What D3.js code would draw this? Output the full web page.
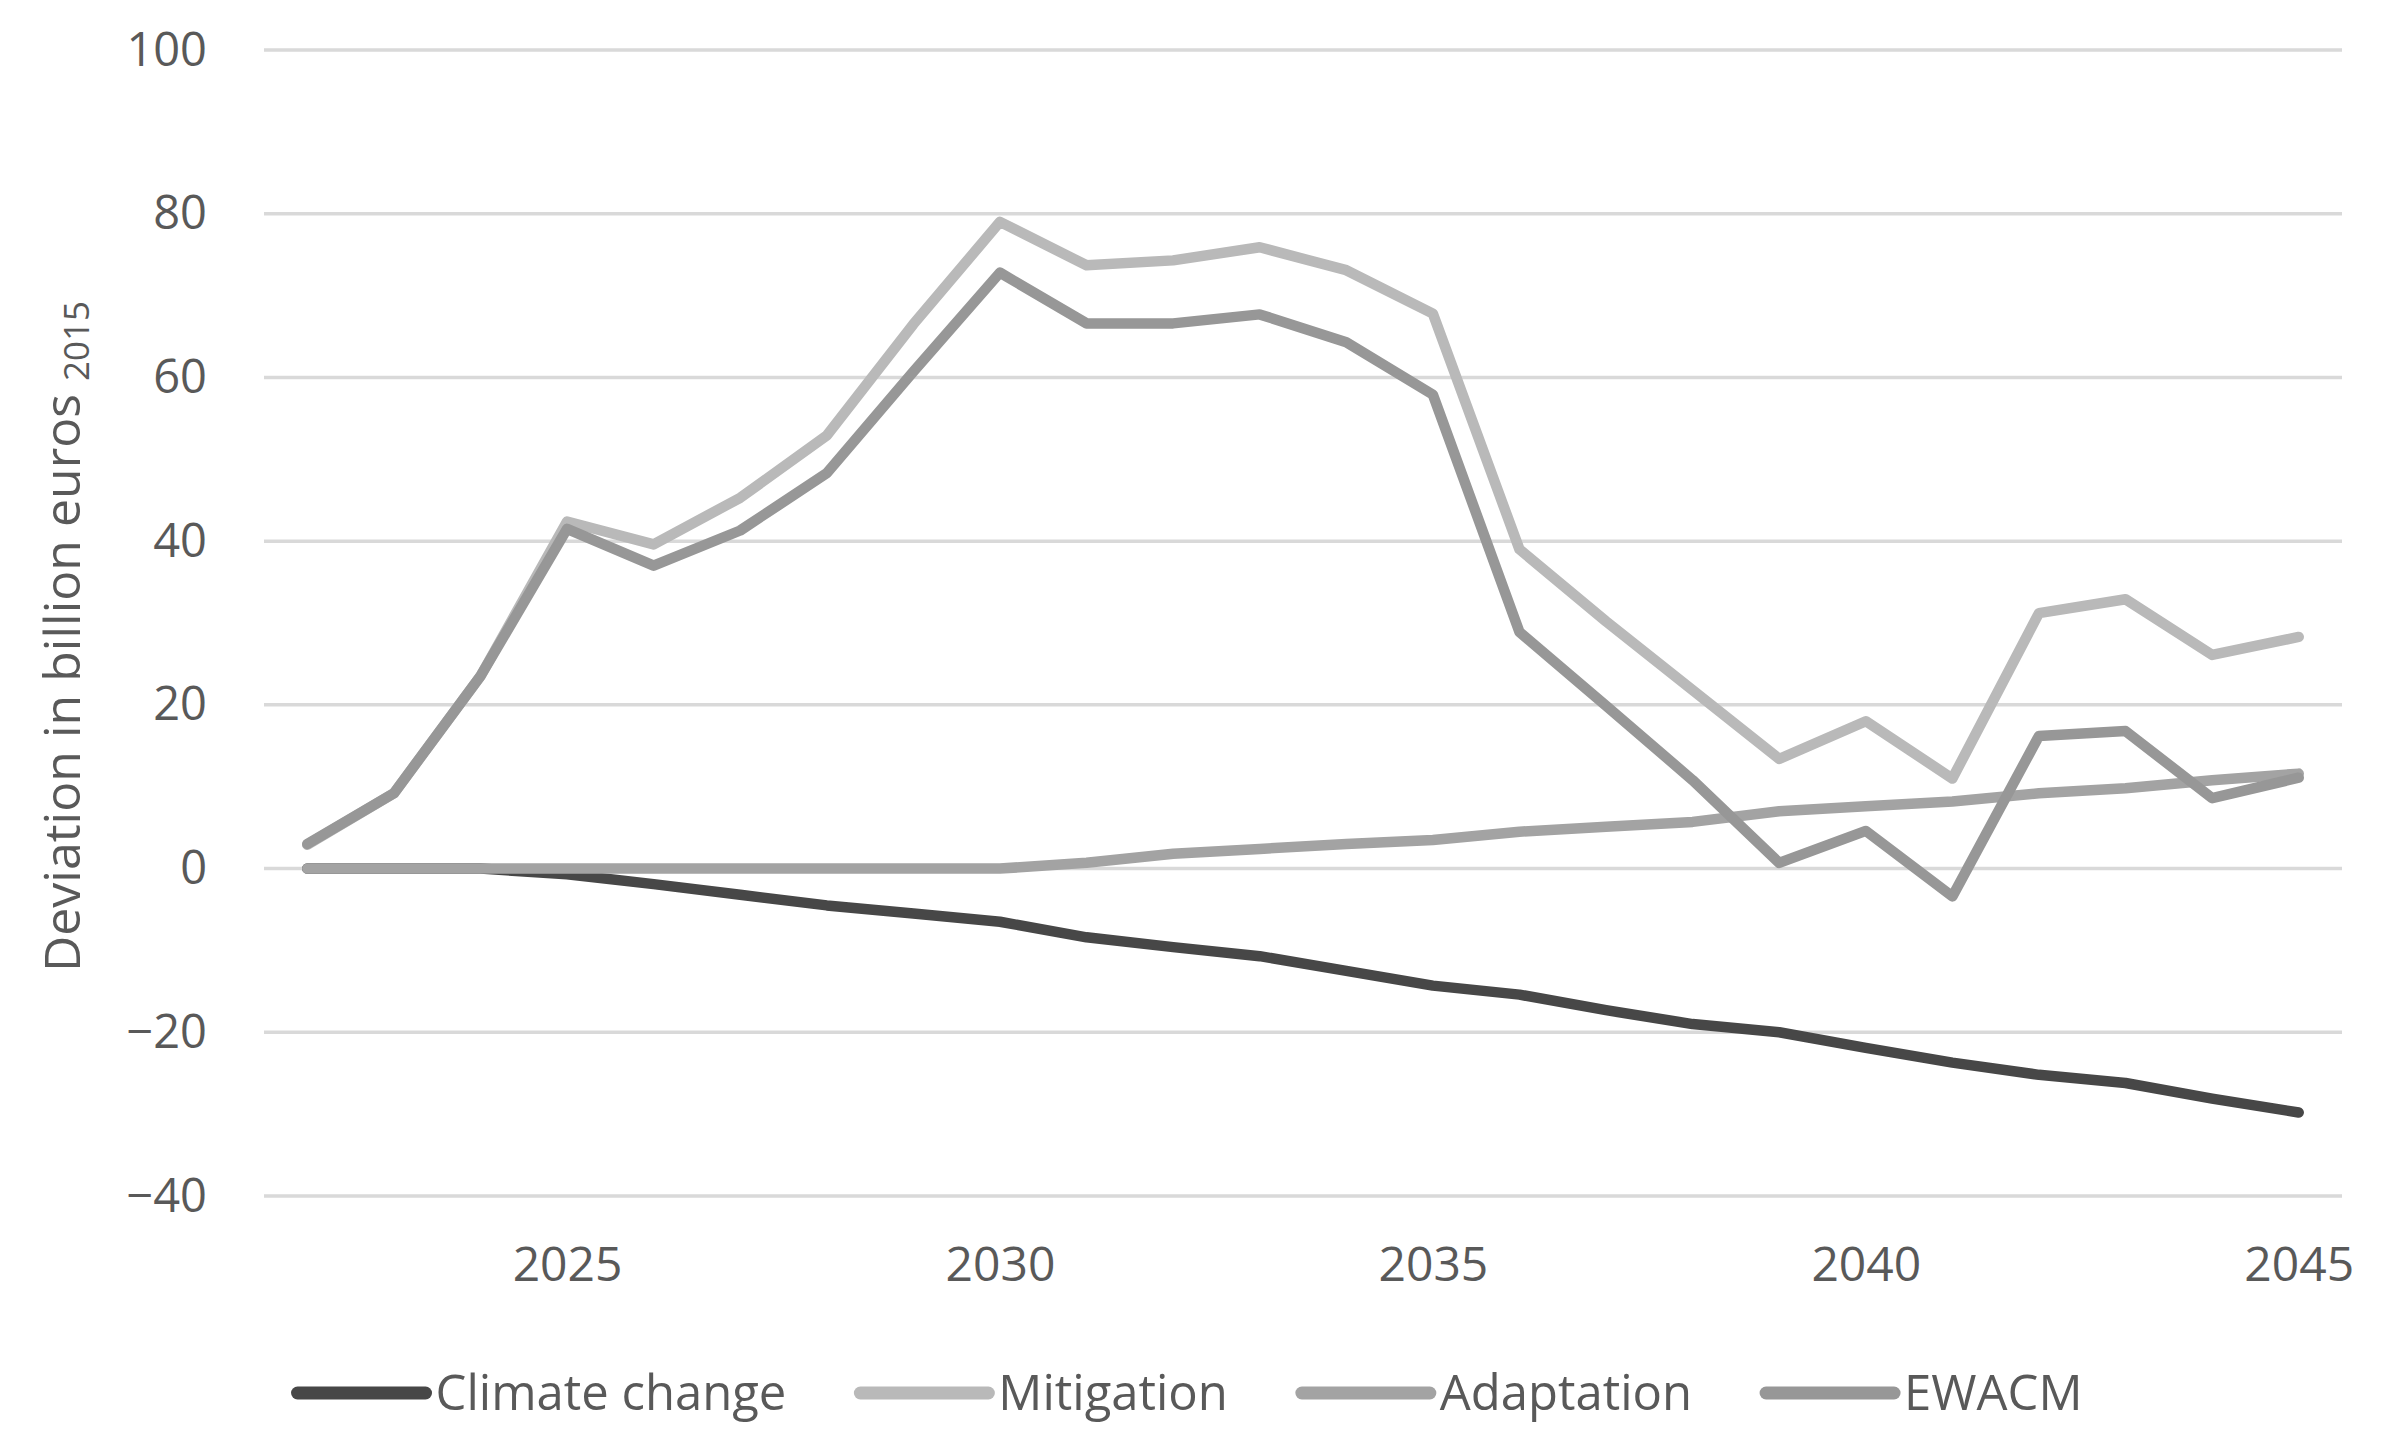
<!DOCTYPE html>
<html>
<head>
<meta charset="utf-8">
<script src="https://cdn.jsdelivr.net/npm/d3@7"></script>
<style>
  html, body { margin: 0; padding: 0; background: #ffffff; }
  svg { display: block; }
  text { font-family: "Open Sans", "Liberation Sans", sans-serif; fill: #595959; }
</style>
</head>
<body>
<svg id="chart" width="2381" height="1440"></svg>
<script>
// ---- data ----
const years = [2022,2023,2024,2025,2026,2027,2028,2029,2030,2031,2032,2033,2034,2035,2036,2037,2038,2039,2040,2041,2042,2043,2044,2045];
const xTickYears = [2025, 2030, 2035, 2040, 2045];
const yTicks = [-40, -20, 0, 20, 40, 60, 80, 100];
const seriesNames = ["Climate change", "Mitigation", "Adaptation", "EWACM"];
const climateChange = [0,0,0,-0.7,-1.9,-3.2,-4.5,-5.5,-6.5,-8.4,-9.6,-10.7,-12.5,-14.3,-15.4,-17.3,-19.0,-20.0,-21.9,-23.7,-25.2,-26.2,-28.1,-29.8];
const mitigation = [2.9,9.2,23.5,42.4,39.6,45.3,52.9,66.5,79.0,73.7,74.3,75.9,73.1,67.8,39.0,30.2,21.8,13.4,18.0,11.0,31.2,32.9,26.1,28.3];
const adaptation = [0,0,0,0,0,0,0,0,0,0.7,1.8,2.4,3.0,3.5,4.5,5.1,5.7,7.0,7.6,8.2,9.2,9.8,10.8,11.6];
const ewacm = [3.0,9.2,23.5,41.5,37.0,41.3,48.3,60.7,72.8,66.6,66.6,67.7,64.3,57.9,28.9,19.9,10.8,0.7,4.6,-3.4,16.2,16.8,8.6,11.1];
const yTitle = "Deviation in billion euros";
const yTitleSub = "2015";

// ---- styling ----
const colors = ["#474747", "#b9b9b9", "#a3a3a3", "#979797"];
const values = [climateChange, mitigation, adaptation, ewacm];

const svg = d3.select("#chart");
const plot = { left: 264, right: 2342, top: 50, bottom: 1196 };

const x = d3.scalePoint().domain(years).range([plot.left, plot.right]).padding(0.5);
const y = d3.scaleLinear().domain([-40, 100]).range([plot.bottom, plot.top]);

// gridlines
svg.append("g").selectAll("line").data(yTicks).join("line")
  .attr("x1", plot.left).attr("x2", plot.right)
  .attr("y1", d => y(d)).attr("y2", d => y(d))
  .attr("stroke", "#d9d9d9").attr("stroke-width", 3.5);

// y axis labels
const yAxis = d3.axisLeft(y).tickValues(yTicks).tickSize(0).tickPadding(0)
  .tickFormat(d => d < 0 ? "\u2212" + Math.abs(d) : String(d));
const gy = svg.append("g").attr("transform", "translate(207,0)").call(yAxis);
gy.select(".domain").remove();
gy.selectAll("text").attr("font-size", 47).attr("fill", "#595959")
  .style("font-family", "'Open Sans', sans-serif");

// x axis labels
const xAxis = d3.axisBottom(x).tickValues(xTickYears).tickSize(0).tickPadding(0);
const gx = svg.append("g").attr("transform", "translate(0,1247)").call(xAxis);
gx.select(".domain").remove();
gx.selectAll("text").attr("font-size", 48).attr("fill", "#595959")
  .style("font-family", "'Open Sans', sans-serif");

// y title
const t = svg.append("text")
  .attr("transform", "translate(80,972) rotate(-90)")
  .attr("text-anchor", "start")
  .attr("font-size", 50);
t.append("tspan").text(yTitle + " ");
t.append("tspan").text(yTitleSub).attr("font-size", 35).attr("dy", 9);

// lines
const line = d3.line().x((d, i) => x(years[i])).y(d => y(d));
svg.append("g").selectAll("path").data(values).join("path")
  .attr("d", d => line(d))
  .attr("fill", "none")
  .attr("stroke", (d, i) => colors[i])
  .attr("stroke-width", 10.5)
  .attr("stroke-linejoin", "round")
  .attr("stroke-linecap", "round");

// legend
const lg = svg.append("g");
const symLen = 128, symGap = 10, itemGap = 74, legendY = 1393;
const items = seriesNames.map((n, i) => {
  const g = lg.append("g");
  g.append("line").attr("x1", 0).attr("x2", symLen).attr("y1", 0).attr("y2", 0)
    .attr("stroke", colors[i]).attr("stroke-width", 13).attr("stroke-linecap", "round");
  const tx = g.append("text").attr("x", symLen + symGap).attr("y", 17)
    .attr("font-size", 49).text(n);
  return { g, w: symLen + symGap + tx.node().getComputedTextLength() };
});
const total = d3.sum(items, d => d.w) + itemGap * (items.length - 1);
let cx = 1190 - total / 2;
items.forEach(it => {
  it.g.attr("transform", `translate(${cx},${legendY})`);
  cx += it.w + itemGap;
});
</script>
</body>
</html>
